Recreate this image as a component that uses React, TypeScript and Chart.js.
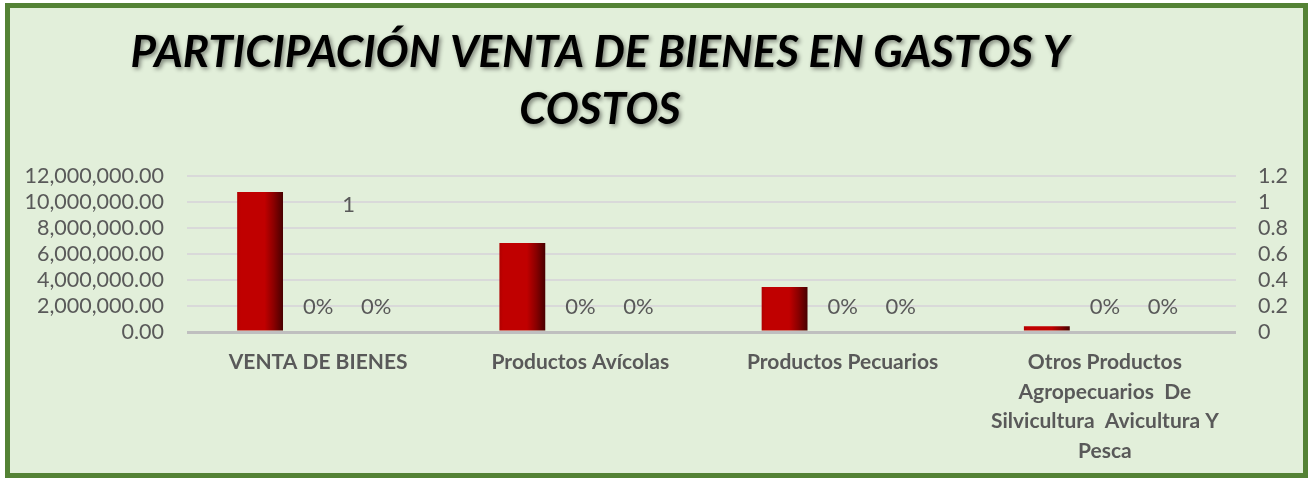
import React, { useEffect, useRef } from "react";
import { Chart, registerables } from "chart.js";

Chart.register(...registerables);

const titleLines = ["PARTICIPACIÓN VENTA DE BIENES EN GASTOS Y", "COSTOS"];
const categoryLabels: string[][] = [
  ["VENTA DE BIENES"],
  ["Productos Avícolas"],
  ["Productos Pecuarios"],
  ["Otros Productos", "Agropecuarios  De", "Silvicultura  Avicultura Y", "Pesca"],
];
const ventaValores = [10770000, 6850000, 3460000, 450000];
const participacionGastos = [0, 0, 0, 0];
const participacionCostos = [0, 0, 0, 0];
const proporcion: (number | null)[] = [1, null, null, null];

const FONT = "Lato, 'Open Sans', sans-serif";
const TEXT = "#595959";

const barGradient = (ctx: any) => {
  const el = ctx.element;
  const c = ctx.chart.ctx;
  if (!el || typeof el.x !== "number" || !el.width) return "#C00000";
  const l = el.x - el.width / 2;
  const r = el.x + el.width / 2;
  const g = c.createLinearGradient(l, 0, r, 0);
  g.addColorStop(0, "#B00000");
  g.addColorStop(0.08, "#C00000");
  g.addColorStop(0.6, "#C00000");
  g.addColorStop(0.8, "#8A0000");
  g.addColorStop(1, "#480000");
  return g;
};

const titlePlugin = {
  id: "titleShadow",
  afterDraw(chart: any) {
    const c = chart.ctx;
    c.save();
    c.font = `italic bold 44px ${FONT}`;
    c.textAlign = "center";
    c.textBaseline = "middle";
    c.shadowColor = "rgba(0,0,0,0.45)";
    c.shadowBlur = 4;
    c.shadowOffsetX = 2;
    c.shadowOffsetY = 2;
    c.fillStyle = "#000";
    const cx = 590;
    c.fillText(titleLines[0], cx, 45);
    c.fillText(titleLines[1], cx, 102);
    c.restore();
  },
};

const labelPlugin = {
  id: "valueLabels",
  afterDatasetsDraw(chart: any) {
    const c = chart.ctx;
    c.save();
    c.font = `22px ${FONT}`;
    c.fillStyle = TEXT;
    c.textBaseline = "middle";
    [1, 2].forEach((di) => {
      const meta = chart.getDatasetMeta(di);
      const data = chart.data.datasets[di].data as number[];
      meta.data.forEach((el: any, i: number) => {
        const v = data[i];
        if (v === null || v === undefined) return;
        c.textAlign = "center";
        c.fillText(`${Math.round(v * 100)}%`, el.x, el.y - 25);
      });
    });
    const lm = chart.getDatasetMeta(3);
    lm.data.forEach((el: any, i: number) => {
      const v = proporcion[i];
      if (v === null || v === undefined) return;
      c.textAlign = "left";
      c.fillText(String(v), el.x + 24, el.y + 3);
    });
    c.restore();
  },
};

export default function App() {
  const ref = useRef<HTMLCanvasElement>(null);
  useEffect(() => {
    if (!ref.current) return;
    const chart = new Chart(ref.current, {
      type: "bar",
      data: {
        labels: categoryLabels as any,
        datasets: [
          {
            label: "Venta",
            data: ventaValores,
            yAxisID: "y",
            backgroundColor: barGradient as any,
            categoryPercentage: 0.664,
            barPercentage: 0.79,
          },
          {
            label: "Gastos",
            data: participacionGastos,
            yAxisID: "y1",
            backgroundColor: "rgba(0,0,0,0)",
            categoryPercentage: 0.664,
            barPercentage: 0.79,
          },
          {
            label: "Costos",
            data: participacionCostos,
            yAxisID: "y1",
            backgroundColor: "rgba(0,0,0,0)",
            categoryPercentage: 0.664,
            barPercentage: 0.79,
          },
          {
            type: "line" as any,
            label: "Proporción",
            data: proporcion as any,
            yAxisID: "y1",
            showLine: false,
            pointRadius: 0,
            borderColor: "rgba(0,0,0,0)",
            backgroundColor: "rgba(0,0,0,0)",
          } as any,
        ],
      },
      options: {
        responsive: false,
        animation: false,
        layout: { padding: { top: 168, left: 0, right: 0, bottom: 0 } },
        plugins: {
          legend: { display: false },
          title: { display: false },
          tooltip: { enabled: false },
        },
        scales: {
          x: {
            grid: { display: false, drawTicks: false },
            border: { display: false },
            ticks: {
              color: TEXT,
              font: { family: FONT, size: 21, weight: "bold", lineHeight: 1.4 },
              maxRotation: 0,
              autoSkip: false,
              padding: 16,
            },
            afterFit(scale: any) {
              scale.height = 141;
            },
          },
          y: {
            position: "left",
            min: 0,
            max: 12000000,
            ticks: {
              stepSize: 2000000,
              autoSkip: false,
              color: TEXT,
              font: { family: FONT, size: 21.5 },
              padding: 23,
              callback: (v: any) =>
                Number(v).toLocaleString("en-US", {
                  minimumFractionDigits: 2,
                  maximumFractionDigits: 2,
                }),
            },
            grid: {
              drawTicks: false,
              color: (ctx: any) => (ctx.tick && ctx.tick.value === 0 ? "#BFBFBF" : "#D9D9D9"),
              lineWidth: (ctx: any) => (ctx.tick && ctx.tick.value === 0 ? 3 : 2),
            },
            border: { display: false },
            afterFit(scale: any) {
              scale.width = 177;
            },
          },
          y1: {
            position: "right",
            min: 0,
            max: 1.2,
            ticks: {
              stepSize: 0.2,
              autoSkip: false,
              color: TEXT,
              font: { family: FONT, size: 21.5 },
              padding: 22,
              callback: (v: any) => String(parseFloat(Number(v).toFixed(1))),
            },
            grid: { display: false, drawTicks: false },
            border: { display: false },
            afterFit(scale: any) {
              scale.width = 67;
            },
          },
        },
      },
      plugins: [titlePlugin, labelPlugin],
    });
    chart.update();
    return () => chart.destroy();
  }, []);

  return (
    <div
      style={{
        position: "absolute",
        left: 0,
        top: 0,
        width: 1311,
        height: 480,
        background: "#fff",
      }}
    >
      <div
        style={{
          position: "absolute",
          left: 5,
          top: 3,
          width: 1303,
          height: 475,
          boxSizing: "border-box",
          border: "5px solid #548235",
          background: "#E2EFDA",
        }}
      >
        <canvas ref={ref} width={1293} height={465} style={{ display: "block" }} />
      </div>
    </div>
  );
}
